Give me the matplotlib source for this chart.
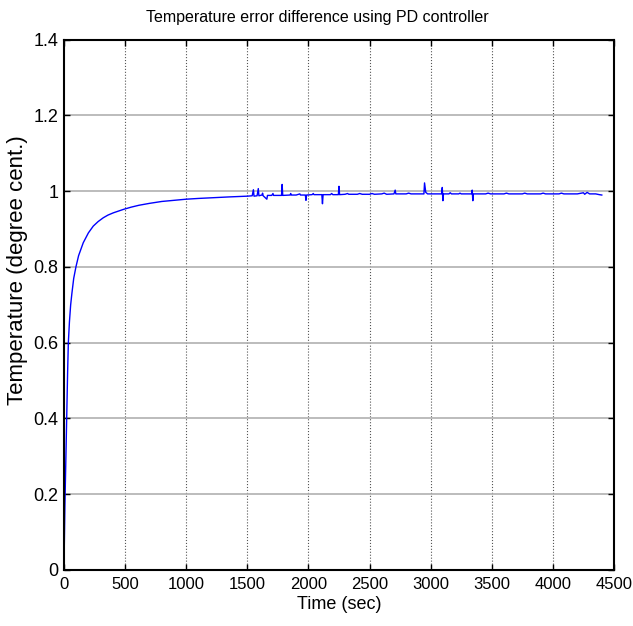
#!/usr/bin/env python3
# -*- coding: utf-8 -*-
"""
Temperature error difference using PD controller.
MATLAB style step response, redrawn with matplotlib.
"""

import matplotlib
matplotlib.use('Agg')
import matplotlib.pyplot as plt

# Rise of the response (time in sec, temperature in degree cent.).
rise_time = [0, 2, 4, 8, 14, 20, 25, 30, 36, 45, 55, 65, 80, 98, 120,
             158, 200, 240, 280, 322, 360, 404, 450, 486, 550, 614, 700,
             800, 900, 1000, 1100, 1220, 1350, 1500]
rise_temp = [0.0, 0.04, 0.09, 0.17, 0.26, 0.36, 0.44, 0.52, 0.60, 0.655,
             0.70, 0.73, 0.77, 0.80, 0.83, 0.864, 0.89, 0.908, 0.92, 0.93,
             0.937, 0.943, 0.948, 0.952, 0.958, 0.963, 0.968, 0.973, 0.976,
             0.979, 0.981, 0.983, 0.985, 0.987]

# Steady part with the small spikes.
steady_time = [1540, 1550, 1555, 1580, 1590, 1595, 1620, 1625, 1630, 1660,
               1665, 1700, 1710, 1715, 1780, 1785, 1790, 1850, 1855, 1860,
               1900, 1930, 1935, 1975, 1980, 1985, 2030, 2040, 2045, 2110,
               2115, 2120, 2180, 2190, 2200, 2245, 2250, 2255, 2300, 2320,
               2330, 2400, 2420, 2440, 2500, 2520, 2540, 2600, 2620, 2640,
               2700, 2710, 2715, 2800, 2820, 2840, 2945, 2950, 2960, 2975,
               3050, 3090, 3095, 3100, 3105, 3150, 3160, 3170, 3230, 3240,
               3250, 3335, 3340, 3345, 3350, 3450, 3470, 3490, 3600, 3620,
               3640, 3750, 3770, 3790, 3900, 3920, 3940, 4050, 4070, 4090,
               4200, 4250, 4260, 4280, 4300, 4350, 4380, 4400]
steady_temp = [0.988, 1.004, 0.987, 0.988, 1.007, 0.988, 0.990, 0.995, 0.988, 0.979,
               0.989, 0.989, 0.994, 0.989, 0.989, 1.018, 0.989, 0.990, 0.994, 0.990,
               0.990, 0.993, 0.990, 0.990, 0.976, 0.990, 0.991, 0.994, 0.991, 0.991,
               0.967, 0.991, 0.991, 0.994, 0.991, 0.991, 1.013, 0.991, 0.992, 0.994,
               0.992, 0.992, 0.994, 0.992, 0.992, 0.994, 0.992, 0.993, 0.995, 0.992,
               0.993, 1.003, 0.993, 0.993, 0.995, 0.993, 0.993, 1.022, 0.997, 0.993,
               0.993, 0.993, 1.010, 0.975, 0.993, 0.993, 0.996, 0.993, 0.993, 0.995,
               0.993, 0.993, 1.003, 0.975, 0.993, 0.993, 0.995, 0.993, 0.993, 0.995,
               0.993, 0.993, 0.995, 0.993, 0.993, 0.995, 0.993, 0.993, 0.995, 0.993,
               0.993, 0.996, 0.992, 0.997, 0.993, 0.993, 0.991, 0.990]

x_ticks = [0, 500, 1000, 1500, 2000, 2500, 3000, 3500, 4000, 4500]
y_ticks = [0, 0.2, 0.4, 0.6, 0.8, 1.0, 1.2, 1.4]
y_tick_labels = ['0', '0.2', '0.4', '0.6', '0.8', '1', '1.2', '1.4']

plt.rcParams['font.family'] = ['Liberation Sans', 'DejaVu Sans']

# Configure the plot.
fig = plt.figure(figsize=(6.33, 6.26), dpi=100)
ax = fig.add_axes([0.101, 0.0895, 0.869, 0.847])

ax.plot(rise_time + steady_time, rise_temp + steady_temp,
        color='#0000ff', linewidth=1.0)

ax.set_xlim(0, 4500)
ax.set_ylim(0, 1.4)
ax.set_xticks(x_ticks)
ax.set_yticks(y_ticks)
ax.set_yticklabels(y_tick_labels)

# Grid: dotted vertical, grey horizontal, as in the source figure.
for t in x_ticks[1:-1]:
    ax.axvline(t, color='#555555', linestyle=':', linewidth=0.8, zorder=0)
for v in y_ticks[1:-1]:
    ax.axhline(v, color='#b0b0b0', linestyle='-', linewidth=1.2, zorder=0)

for sp in ax.spines.values():
    sp.set_linewidth(1.5)
ax.tick_params(direction='in', length=4, width=1, top=True, right=True,
               pad=4)
ax.tick_params(axis='x', labelsize=12, pad=5)
ax.tick_params(axis='y', labelsize=13)

ax.set_title('Temperature error difference using PD controller',
             fontsize=11.5, pad=13, x=0.46)
ax.set_xlabel('Time (sec)', fontsize=13, labelpad=3)
ax.set_ylabel('Temperature (degree cent.)', fontsize=16)
ax.yaxis.set_label_coords(-0.066, 0.565)

fig.savefig('out.png', dpi=100)
